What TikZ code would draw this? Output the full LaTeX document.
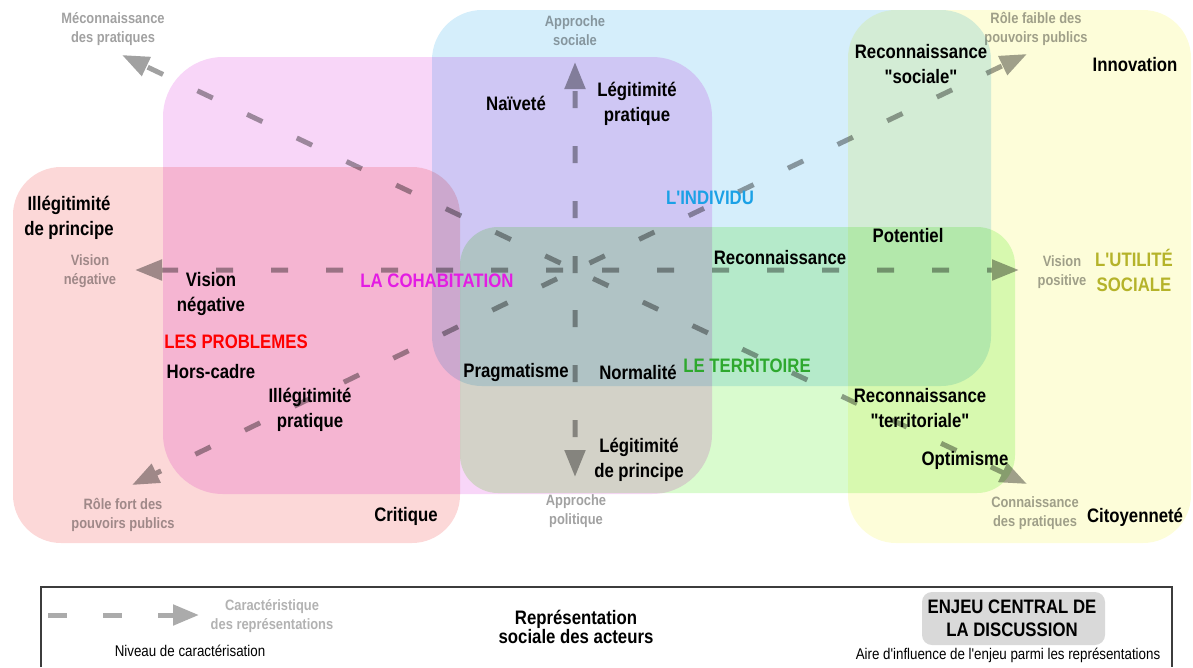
\documentclass[tikz,border=0pt]{standalone}
\usepackage{fontspec}
\setmainfont{Liberation Sans}[FakeStretch=0.86,Ligatures=TeXOff]
\usetikzlibrary{arrows.meta,calc}
\definecolor{cRed}{HTML}{FCD8D8}
\definecolor{cMag}{HTML}{F8D6F8}
\definecolor{cBlue}{HTML}{D5EEFB}
\definecolor{cGreen}{HTML}{D9FBCE}
\definecolor{cYel}{HTML}{FDFDD9}
\definecolor{tRed}{HTML}{FF0000}
\definecolor{tMag}{HTML}{E31CE3}
\definecolor{tBlue}{HTML}{1BA1E6}
\definecolor{tGreen}{HTML}{2EA82E}
\definecolor{tOlive}{HTML}{B5B32A}
\definecolor{legGray}{HTML}{ABABAB}
\definecolor{encGray}{HTML}{D9D9D9}
\definecolor{frameGray}{HTML}{3C3C3C}
\begin{document}
\begin{tikzpicture}[x=1pt,y=-1pt,
  lbl/.style={font=\bfseries\fontsize{19.5}{25}\selectfont, align=center, inner sep=0pt},
  glbl/.style={font=\bfseries\fontsize{15}{19}\selectfont, align=center, inner sep=0pt, text=black, text opacity=0.37},
  reg/.style={font=\fontsize{15.5}{19}\selectfont, align=center, inner sep=0pt},
  arm/.style={line width=5pt, dash pattern=on 17pt off 38pt, -{Triangle[length=27pt,width=20pt]}},
  legarrow/.style={draw=legGray, line width=5pt, dash pattern=on 19pt off 36pt, -{Triangle[length=26pt,width=20pt]}},
  frame/.style={draw=frameGray, line width=1.5pt},
  enjeu/.style={fill=encGray, rounded corners=10pt, minimum width=183pt, minimum height=53pt, inner sep=0pt}
]
\useasboundingbox (0,0) rectangle (1193,667);

% zones of influence
\begin{scope}[blend group=multiply]
  \fill[cRed, rounded corners=48pt] (13,167) rectangle (460,543);
  \fill[cMag, rounded corners=60pt] (163,57) rectangle (712,494);
  \fill[cBlue, rounded corners=50pt] (432,10) rectangle (991,386);
  \fill[cGreen, rounded corners=38pt] (460,227) rectangle (1015,493);
  \fill[cYel, rounded corners=48pt] (848,10) rectangle (1191,543);
\end{scope}

% axes
\coordinate (C) at (575,270);
\coordinate (L) at (135,270);
\coordinate (R) at (1019,270);
\coordinate (U) at (575,62);
\coordinate (D) at (575,477);
\coordinate (UL) at (122,55);
\coordinate (DR) at (1027,484);
\coordinate (UR) at (1027,54);
\coordinate (DL) at (132,485);
\begin{scope}[transparency group, opacity=0.37]
  \draw[arm] ($(C)!12pt!(L)$) -- (L);
  \draw[arm] ($(C)!27pt!(R)$) -- (R);
  \draw[arm] ($(C)!-3pt!(U)$) -- (U);
  \draw[arm] ($(C)!40pt!(D)$) -- (D);
  \draw[arm] ($(C)!16pt!(UL)$) -- (UL);
  \draw[arm] ($(C)!20pt!(DR)$) -- (DR);
  \draw[arm] ($(C)!16pt!(UR)$) -- (UR);
  \draw[arm] ($(C)!20pt!(DL)$) -- (DL);
\end{scope}

% axis labels
\node[glbl] (meco) at (113,29) {Méconnaissance\\des pratiques};
\node[glbl] (apso) at (575,31) {Approche\\sociale};
\node[glbl] (rfai) at (1036,29) {Rôle faible des\\pouvoirs publics};
\node[glbl] (vneg) at (90,271) {Vision\\négative};
\node[glbl] (vpos) at (1062,272) {Vision\\positive};
\node[glbl] (appol) at (576,511) {Approche\\politique};
\node[glbl] (rfort) at (123,515) {Rôle fort des\\pouvoirs publics};
\node[glbl] (conn) at (1035,513) {Connaissance\\des pratiques};

% representations
\node[lbl] (innov) at (1135,65) {Innovation};
\node[lbl] (recs) at (921,64) {Reconnaissance\\"sociale"};
\node[lbl] (naiv) at (516,103) {Naïveté};
\node[lbl] (legp) at (637,104) {Légitimité\\pratique};
\node[lbl] (illp) at (69,218) {Illégitimité\\de principe};
\node[lbl] (vnb) at (211,294) {Vision\\négative};
\node[lbl] (pot) at (908,236) {Potentiel};
\node[lbl] (reco) at (780,258) {Reconnaissance};
\node[lbl] (hors) at (211,372) {Hors-cadre};
\node[lbl] (illpr) at (310,410) {Illégitimité\\pratique};
\node[lbl] (prag) at (516,372) {Pragmatisme};
\node[lbl] (norm) at (638,372) {Normalité};
\node[lbl] (rect) at (920,408) {Reconnaissance\\"territoriale"};
\node[lbl] (opti) at (965,460) {Optimisme};
\node[lbl] (legpr) at (639,460) {Légitimité\\de principe};
\node[lbl] (crit) at (406,516) {Critique};
\node[lbl] (cito) at (1135,517) {Citoyenneté};

% central issues
\node[lbl, text=tRed] (prob) at (236,342) {LES PROBLEMES};
\node[lbl, text=tMag] (coha) at (437,281) {LA COHABITATION};
\node[lbl, text=tBlue] (indiv) at (710,198) {L'INDIVIDU};
\node[lbl, text=tGreen] (terr) at (747,366) {LE TERRITOIRE};
\node[lbl, text=tOlive] (util) at (1134,270) {L'UTILITÉ\\SOCIALE};

% legend
\draw[frame] (41,667) -- (41,587) -- (1172,587) -- (1172,667);
\coordinate (la) at (48,615);
\coordinate (lb) at (199,615);
\draw[legarrow] (la) -- (lb);
\node[glbl, text opacity=0.3] (cara) at (272,616) {Caractéristique\\des représentations};
\node[reg] (niv) at (190,651) {Niveau de caractérisation};
\node[lbl, font=\bfseries\fontsize{19.5}{17.5}\selectfont] (rep) at (576,627) {Représentation\\sociale des acteurs};
\node[enjeu] (enjbox) at (1013.5,618.5) {};
\node[lbl, font=\bfseries\fontsize{19.5}{23}\selectfont] (enj) at (1012,618) {ENJEU CENTRAL DE\\LA DISCUSSION};
\node[reg] (aire) at (1008,655) {Aire d'influence de l'enjeu parmi les représentations};
\end{tikzpicture}
\end{document}
